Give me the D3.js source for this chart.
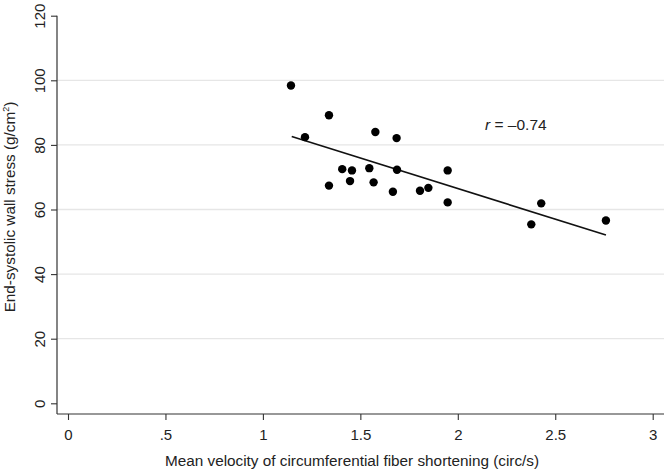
<!DOCTYPE html>
<html>
<head>
<meta charset="utf-8">
<script src="https://cdn.jsdelivr.net/npm/d3@7"></script>
<style>
  html, body { margin: 0; padding: 0; background: #fff; }
  svg { display: block; font-family: "Liberation Sans", Arial, sans-serif; }
</style>
</head>
<body>
<svg id="chart" width="666" height="472"></svg>
<script>
// Data
const velocity = [1.144, 1.216, 1.339, 1.339, 1.407, 1.457, 1.447, 1.577, 1.546, 1.568,
                  1.686, 1.688, 1.667, 1.806, 1.849, 1.948, 1.948, 2.428, 2.377, 2.760];
const stress   = [98.4, 82.4, 89.2, 67.4, 72.5, 72.1, 68.8, 84.0, 72.8, 68.4,
                  82.1, 72.3, 65.5, 65.8, 66.7, 72.1, 62.2, 61.9, 55.4, 56.6];
const fitX = [1.148, 2.76];
const fitY = [82.6, 52.1];
const xTicks = [0, 0.5, 1, 1.5, 2, 2.5, 3];
const xTickLabels = ["0", ".5", "1", "1.5", "2", "2.5", "3"];
const yTicks = [0, 20, 40, 60, 80, 100, 120];
const gridTicks = [20, 40, 60, 80, 100];

const svg = d3.select("#chart");
const axisX0 = 57, axisX1 = 664, axisYBottom = 414;

const x = d3.scaleLinear().domain([0, 3]).range([68, 652.7]);
const y = d3.scaleLinear().domain([0, 120]).range([403.3, 15.7]);

// gridlines
svg.append("g").selectAll("line").data(gridTicks).join("line")
  .attr("x1", axisX0).attr("x2", axisX1)
  .attr("y1", d => y(d)).attr("y2", d => y(d))
  .attr("stroke", "#e6e6e6").attr("stroke-width", 1.3);

// y axis
const yAxis = d3.axisLeft(y).tickValues(yTicks).tickSize(6).tickPadding(7).tickFormat(d3.format("d"));
const gy = svg.append("g").attr("transform", `translate(${axisX0},0)`).call(yAxis);
gy.select(".domain").remove();
gy.append("line").attr("x1", 0).attr("x2", 0).attr("y1", y(120)).attr("y2", axisYBottom)
  .attr("stroke", "#333").attr("stroke-width", 1.2);
gy.selectAll(".tick line").attr("stroke", "#333").attr("stroke-width", 1.1);
gy.selectAll(".tick text")
  .attr("font-size", 15).attr("fill", "#222")
  .attr("x", null).attr("dy", null)
  .attr("text-anchor", "middle")
  .attr("transform", "translate(-17,0) rotate(-90) translate(0,5)");

// x axis
const xAxis = d3.axisBottom(x).tickValues(xTicks).tickSize(6).tickPadding(9)
  .tickFormat((d, i) => xTickLabels[i]);
const gx = svg.append("g").attr("transform", `translate(0,${axisYBottom})`).call(xAxis);
gx.select(".domain").remove();
gx.append("line").attr("x1", axisX0).attr("x2", axisX1).attr("y1", 0).attr("y2", 0)
  .attr("stroke", "#333").attr("stroke-width", 1.2);
gx.selectAll(".tick line").attr("stroke", "#333").attr("stroke-width", 1.1);
gx.selectAll(".tick text").attr("font-size", 15).attr("fill", "#222");

// axis titles
svg.append("text")
  .attr("x", 352).attr("y", 466)
  .attr("text-anchor", "middle").attr("font-size", 15.3).attr("fill", "#222")
  .text("Mean velocity of circumferential fiber shortening (circ/s)");

const yt = svg.append("text")
  .attr("transform", "translate(15,207) rotate(-90)")
  .attr("text-anchor", "middle").attr("font-size", 15.3).attr("fill", "#222");
yt.append("tspan").text("End-systolic wall stress (g/cm");
yt.append("tspan").attr("font-size", 9).attr("dy", -6).text("2");
yt.append("tspan").attr("dy", 6).text(")");

// regression line
svg.append("line")
  .attr("x1", x(fitX[0])).attr("y1", y(fitY[0]))
  .attr("x2", x(fitX[1])).attr("y2", y(fitY[1]))
  .attr("stroke", "#111").attr("stroke-width", 1.6);

// points
svg.append("g").selectAll("circle").data(velocity).join("circle")
  .attr("cx", d => x(d)).attr("cy", (d, i) => y(stress[i]))
  .attr("r", 4.2).attr("fill", "#000");

// r label
const rt = svg.append("text").attr("x", 485).attr("y", 130)
  .attr("font-size", 15.5).attr("fill", "#222");
rt.append("tspan").attr("font-style", "italic").text("r");
rt.append("tspan").text(" = \u20130.74");
</script>
</body>
</html>
